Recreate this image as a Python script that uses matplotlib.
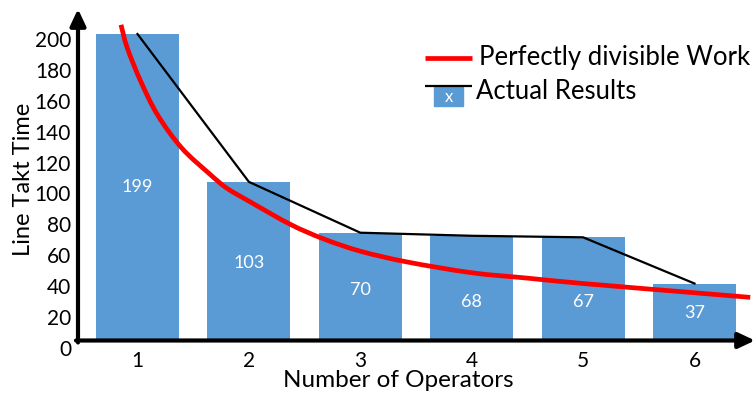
import matplotlib
matplotlib.use("Agg")
import matplotlib.pyplot as plt
from matplotlib.lines import Line2D
from matplotlib.patches import Rectangle, PathPatch
from matplotlib.path import Path
from matplotlib.transforms import ScaledTranslation

# ---- data ----
operators = [1, 2, 3, 4, 5, 6]
actual_takt = [199, 103, 70, 68, 67, 37]
x_ticks = [1, 2, 3, 4, 5, 6]
y_ticks = [0, 20, 40, 60, 80, 100, 120, 140, 160, 180, 200]

# "perfectly divisible work" curve, sampled along its length
ideal_x = [0.852, 0.908, 1.031, 1.181, 1.397, 1.65, 1.80, 2.00, 2.37,
           2.67, 3.00, 3.42, 4.00, 4.50, 5.00, 6.00, 6.50]
ideal_y = [205, 190, 168, 146.4, 125, 108, 99, 90.5, 75.5,
           66, 58, 51, 44, 40.5, 37, 31, 28]

# vertical placement of value labels inside bars (fraction of bar height)
label_frac = [0.50, 0.49, 0.47, 0.37, 0.37, 0.48]

FONT = "Lato"
BAR_BLUE = "#5B9BD5"
W, H = 755, 394


def smooth_path(xs, ys):
    """Catmull-Rom curve through the given points, as cubic Bezier segments."""
    pts = list(zip(xs, ys))
    verts = [pts[0]]
    codes = [Path.MOVETO]
    n = len(pts)
    for i in range(n - 1):
        p0 = pts[max(i - 1, 0)]
        p1 = pts[i]
        p2 = pts[i + 1]
        p3 = pts[min(i + 2, n - 1)]
        c1 = (p1[0] + (p2[0] - p0[0]) / 6, p1[1] + (p2[1] - p0[1]) / 6)
        c2 = (p2[0] - (p3[0] - p1[0]) / 6, p2[1] - (p3[1] - p1[1]) / 6)
        verts += [c1, c2, p2]
        codes += [Path.CURVE4] * 3
    return Path(verts, codes)


fig = plt.figure(figsize=(W / 100, H / 100), dpi=100)
ax = fig.add_axes([78 / W, 1 - 340.5 / H, 1 - 78 / W, (340.5 - 9) / H])
ax.set_xlim(0.466, 6.543)
ax.set_ylim(0, (340.5 - 9) / 1.54)

ax.bar(operators, actual_takt, width=0.745, color=BAR_BLUE, zorder=1)
for xv, yv, fr in zip(operators, actual_takt, label_frac):
    ax.text(xv, yv * fr, str(yv), ha="center", va="center", color="white",
            fontsize=13, family=FONT, zorder=4)

ax.plot(operators, actual_takt, color="black", lw=1.6, zorder=2,
        solid_joinstyle="miter")
ax.add_patch(PathPatch(smooth_path(ideal_x, ideal_y), facecolor="none",
                       edgecolor="#FF0000", lw=3.4, capstyle="butt",
                       zorder=3, clip_on=False))

# axes drawn as arrows
for sp in ax.spines.values():
    sp.set_visible(False)
arrow_kw = dict(arrowstyle="-|>,head_length=1.0,head_width=0.47",
                lw=3.0, color="black", shrinkA=0, shrinkB=0,
                mutation_scale=10)
ax.annotate("", xy=(0, 1), xytext=(0, -0.006), xycoords="axes fraction",
            arrowprops=arrow_kw, annotation_clip=False)
ax.annotate("", xy=(1, 0), xytext=(-0.003, 0), xycoords="axes fraction",
            arrowprops=arrow_kw, annotation_clip=False)

ax.set_xticks(x_ticks)
ax.set_xticklabels([str(v) for v in x_ticks])
ax.set_yticks(y_ticks)
ax.set_yticklabels([str(v) for v in y_ticks])
ax.tick_params(axis="both", length=0, labelsize=15)
ax.tick_params(axis="x", pad=7.5)
ax.tick_params(axis="y", pad=5)
for lab in ax.get_xticklabels() + ax.get_yticklabels():
    lab.set_family(FONT)
for lab in ax.get_yticklabels():
    lab.set_transform(lab.get_transform() +
                      ScaledTranslation(0, -7 / 100, fig.dpi_scale_trans))

fig.text(398 / W, 1 - 380.5 / H, "Number of Operators", ha="center",
         va="center", fontsize=17.5, family=FONT)
fig.text(24 / W, 1 - 179 / H, "Line Takt Time", ha="center", va="center",
         rotation=90, fontsize=17, family=FONT)


# legend
def fx(px):
    return px / W


def fy(py):
    return 1 - py / H


fig.add_artist(Line2D([fx(425), fx(472)], [fy(58), fy(58)], color="#FF0000",
                      lw=3.4, solid_capstyle="butt"))
fig.text(fx(479), fy(58), "Perfectly divisible Work", ha="left",
         va="center", fontsize=18.5, family=FONT)
fig.add_artist(Rectangle((fx(434), fy(106)), fx(463) - fx(434),
                         fy(87) - fy(106), color=BAR_BLUE,
                         transform=fig.transFigure))
fig.add_artist(Line2D([fx(425), fx(472)], [fy(86), fy(86)], color="black",
                      lw=1.6, solid_capstyle="butt"))
fig.text(fx(448.5), fy(97), "x", ha="center", va="center", color="white",
         fontsize=12, family=FONT)
fig.text(fx(476), fy(91.5), "Actual Results", ha="left", va="center",
         fontsize=18.5, family=FONT)

fig.savefig("out.png", dpi=100)
